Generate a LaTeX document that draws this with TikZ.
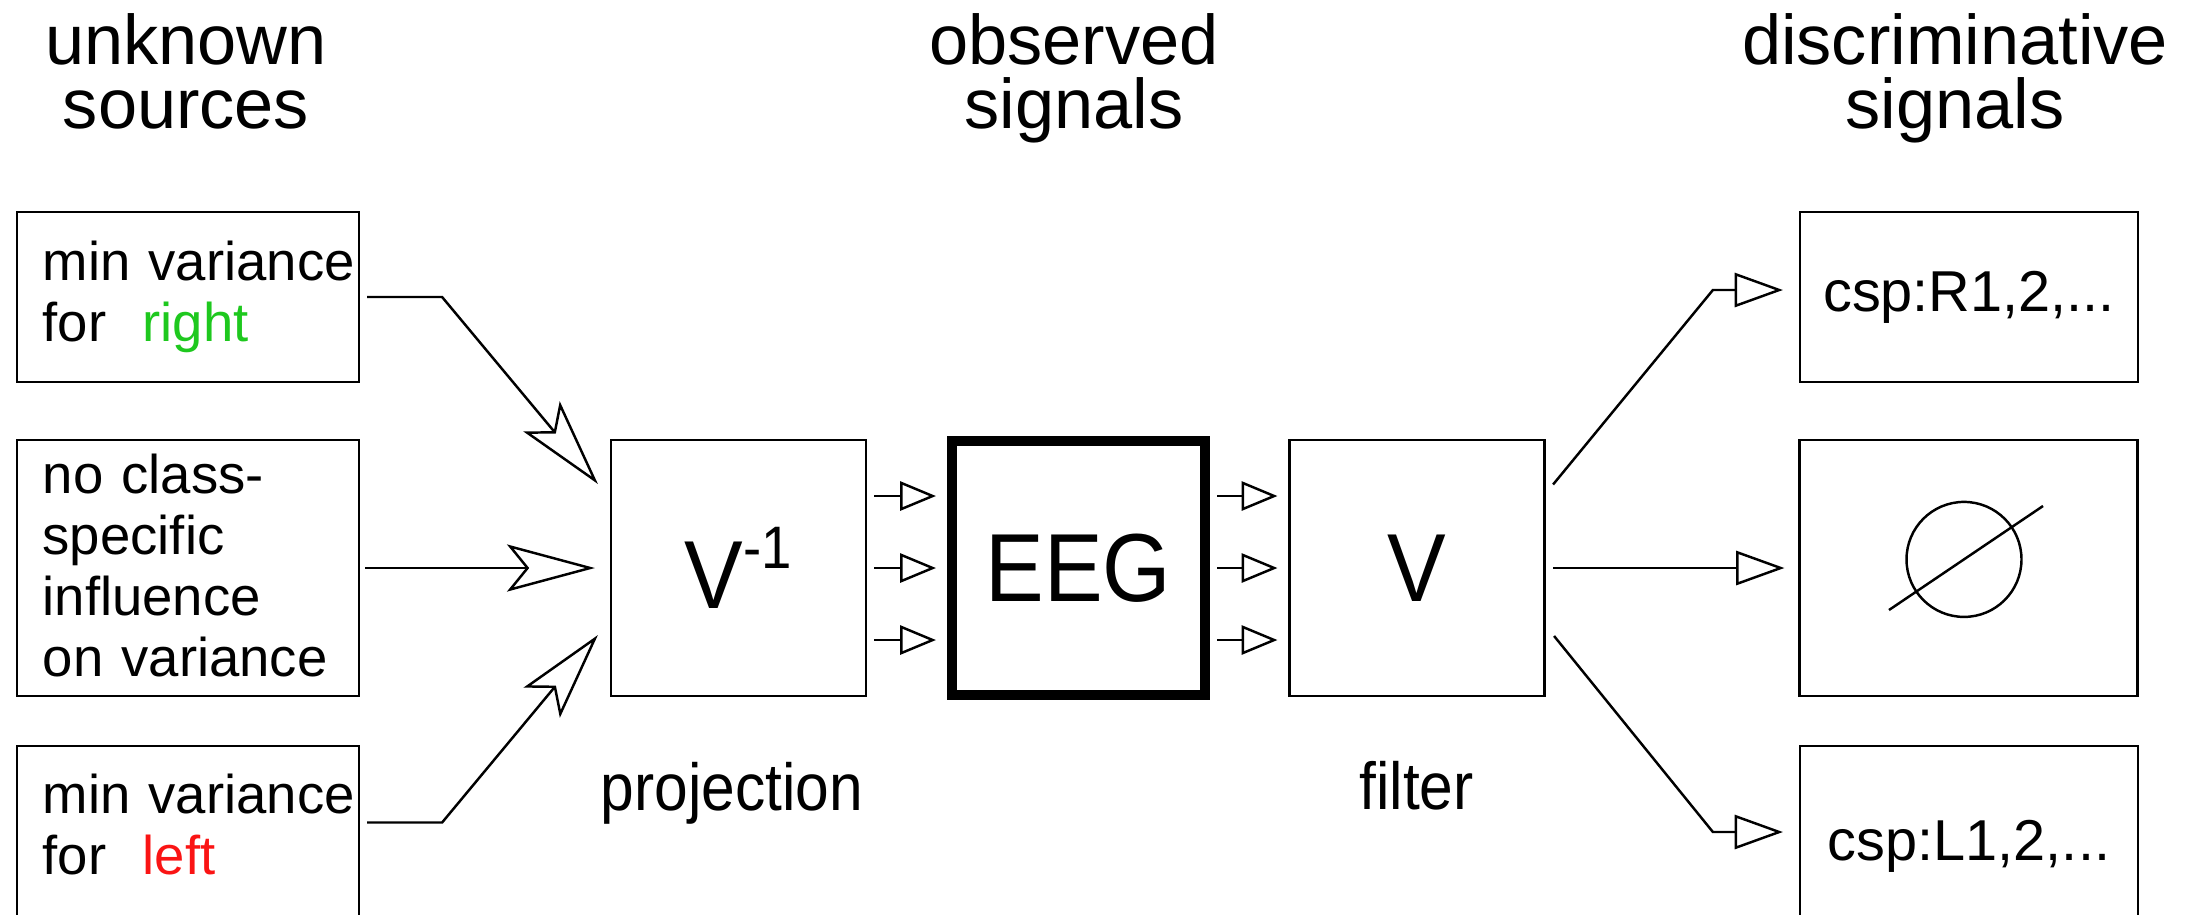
\documentclass[tikz,border=0pt]{standalone}
\usepackage{fontspec}
\setmainfont{Liberation Sans}
\usepackage{graphicx}
\usetikzlibrary{arrows.meta,calc}

\definecolor{rightgreen}{RGB}{30,200,30}
\definecolor{leftred}{RGB}{250,20,20}

\newcommand{\tallbig}[1]{\scalebox{1}[1.1]{#1}}

\begin{document}
\begin{tikzpicture}[x=0.01cm,y=-0.01cm,
    box/.style={draw,rectangle,line width=0.7pt,inner sep=0pt,outer sep=0pt},
    srcbox/.style={box,minimum width=3.42cm,minimum height=1.7cm},
    outbox/.style={box,minimum width=3.38cm,minimum height=1.7cm,font=\fontsize{16.4}{19}\selectfont},
    block/.style={box,minimum width=2.55cm,minimum height=2.56cm,font=\fontsize{25}{28}\selectfont},
    heading/.style={anchor=base,inner sep=0pt,text width=5cm,align=center,font=\fontsize{20}{18.2}\selectfont},
    srctext/.style={anchor=base west,inner sep=0pt,text width=3.3cm,align=left,font=\fontsize{15.5}{17.4}\selectfont},
    steptext/.style={anchor=base,inner sep=0pt,font=\fontsize{17.2}{20}\selectfont},
    bigarrow/.style={line width=0.7pt,-{Stealth[open,length=25pt,width=13.4pt,inset=5.4pt]}},
    chanarrow/.style={line width=0.7pt,-{Triangle[open,length=10.2pt,width=8.3pt]}},
    outarrow/.style={line width=0.7pt,-{Triangle[open,length=13.7pt,width=9.7pt]}}]
  \path[use as bounding box,clip] (0,0) rectangle (2199,914);
  % headings
  \node[heading] (hsrc) at (186,64) {unknown\\sources};
  \node[heading] (hobs) at (1074,64) {observed\\signals};
  \node[heading] (hdis) at (1955,64) {discriminative\\signals};
  % unknown sources
  \node[srcbox] (src1) at (188,297) {};
  \node[srcbox,minimum height=2.56cm] (src2) at (188,568) {};
  \node[srcbox] (src3) at (188,831) {};
  \node[srctext] (src1txt) at (42,280) {min variance\\for\ \ \textcolor{rightgreen}{right}};
  \node[srctext] (src2txt) at (42,493) {no class-\\specific\\influence\\on variance};
  \node[srctext] (src3txt) at (42,813) {min variance\\for\ \ \textcolor{leftred}{left}};
  % projection, EEG, filter
  \node[block] (vinv) at (738.5,568) {\tallbig{V\raisebox{10.3pt}{\fontsize{15.5}{18}\selectfont -1}}};
  \node[block,line width=2.85pt,minimum width=2.53cm,minimum height=2.54cm] (eeg) at (1078.5,568) {\tallbig{EEG}};
  \node[block] (vfil) at (1417,568) {\tallbig{V}};
  \node[steptext] (proj) at (732,810) {\tallbig{projection}};
  \node[steptext] (filt) at (1416.5,809) {\tallbig{filter}};
  % discriminative signals
  \node[outbox] (out1) at (1969,297) {csp:R1,2,...};
  \node[outbox,minimum height=2.56cm] (out2) at (1968.5,568) {};
  \node[outbox,minimum height=2cm] (out3) at (1969,846) {csp:L1,2,...};
  \draw[line width=0.7pt] ($(out2.center)+(-4.5,-8.6)$) circle[radius=57.5];
  \draw[line width=0.7pt] ($(out2.center)+(-79.5,42)$) -- ($(out2.center)+(74.5,-62)$);
  % connectors
  \draw[bigarrow] ($(src1.east)+(8,0)$) -- ++(75,0) -- ($(vinv.west)+(-13,-84)$);
  \draw[bigarrow] ($(src2.east)+(6,0)$) -- ($(vinv.west)+(-16,0)$);
  \draw[bigarrow] ($(src3.east)+(8,-8.5)$) -- ++(75,0) -- ($(vinv.west)+(-13,67)$);
  \foreach \dy in {-72,0,72} {
    \draw[chanarrow] ($(vinv.east)+(8,\dy)$) -- ($(eeg.west)+(-16,\dy)$);
    \draw[chanarrow] ($(eeg.east)+(12,\dy)$) -- ($(vfil.west)+(-12,\dy)$);
  }
  \draw[outarrow] ($(vfil.east)+(8.5,-83.5)$) -- ($(out1.west)+(-87,-7)$) -- ($(out1.west)+(-17,-7)$);
  \draw[outarrow] ($(vfil.east)+(8.7,0)$) -- ($(out2.west)+(-15,0)$);
  \draw[outarrow] ($(vfil.east)+(9.5,68)$) -- ($(out3.west)+(-87,-14)$) -- ($(out3.west)+(-17,-14)$);
\end{tikzpicture}
\end{document}
